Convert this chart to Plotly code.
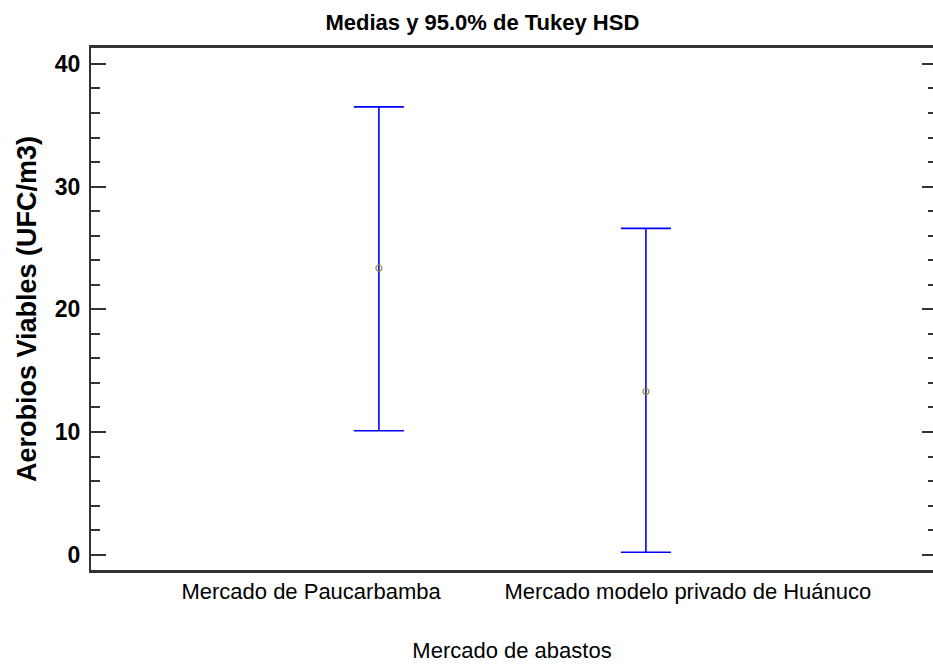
import plotly.graph_objects as go

# Tukey HSD 95% intervals for viable aerobic counts per market
mercados = ["Mercado de Paucarbamba", "Mercado modelo privado de Huánuco"]
medias = [23.35, 13.3]
limite_inferior = [10.1, 0.2]
limite_superior = [36.5, 26.6]

titulo = "Medias y 95.0% de Tukey HSD"
titulo_x = "Mercado de abastos"
titulo_y = "Aerobios Viables (UFC/m3)"
y_ticks = [0, 10, 20, 30, 40]

sans = "Liberation Sans, Arial, sans-serif"
ink = "#000000"

pos = list(range(len(mercados)))
# label anchors sit slightly apart from the interval positions
label_pos = [p + d for p, d in zip(pos, [-0.254, 0.157])]

err_plus = [u - m for u, m in zip(limite_superior, medias)]
err_minus = [m - l for m, l in zip(medias, limite_inferior)]

x_range = [-1.078, 2.075]
y_range = [-1.25, 41.3]
axis_line = "#333333"

fig = go.Figure()
fig.add_trace(go.Scatter(
    x=pos, y=medias, mode="markers",
    marker=dict(symbol="circle-open", size=6, color="#8c8c2a", line=dict(width=1.2)),
    error_y=dict(type="data", symmetric=False, array=err_plus, arrayminus=err_minus,
                 color="#0000ff", thickness=1.6, width=25),
    showlegend=False, hoverinfo="skip",
))
# invisible carrier so the right-hand tick axis is drawn
fig.add_trace(go.Scatter(
    x=[pos[0]], y=[medias[0]], yaxis="y2", mode="markers",
    marker=dict(opacity=0), showlegend=False, hoverinfo="skip",
))

fig.update_layout(
    width=933, height=666,
    margin=dict(l=91, r=0, t=48, b=96),
    paper_bgcolor="white", plot_bgcolor="white",
    title=dict(text=titulo, x=0.517, xanchor="center", y=0.966, yanchor="middle",
               font=dict(family=sans, size=22, color=ink, weight="bold")),
    xaxis=dict(
        range=x_range,
        tickvals=label_pos, ticktext=mercados,
        showgrid=False, zeroline=False,
        showline=True, linecolor=axis_line, linewidth=2.5, mirror=True,
        ticks="", tickfont=dict(family=sans, size=22, color=ink),
        title=dict(text=titulo_x, font=dict(family=sans, size=22, color=ink), standoff=40),
    ),
    yaxis=dict(
        range=y_range,
        tickvals=y_ticks,
        showgrid=False, zeroline=False,
        showline=True, linecolor=axis_line, linewidth=2,
        ticks="inside", ticklen=15, tickwidth=2, tickcolor=axis_line,
        minor=dict(dtick=2, ticks="inside", ticklen=9, tickwidth=2, tickcolor=axis_line),
        tickfont=dict(family=sans, size=23, color=ink, weight="bold"),
        ticklabelstandoff=4,
        title=dict(text=titulo_y, font=dict(family=sans, size=27, color=ink, weight="bold"),
                   standoff=10),
    ),
    yaxis2=dict(
        overlaying="y", side="right",
        range=y_range, tickvals=y_ticks,
        showgrid=False, zeroline=False, showline=False, showticklabels=False,
        ticks="inside", ticklen=11, tickwidth=2, tickcolor=axis_line,
        minor=dict(dtick=2, ticks="inside", ticklen=5, tickwidth=2, tickcolor=axis_line),
    ),
)

fig.write_html("out.html")
